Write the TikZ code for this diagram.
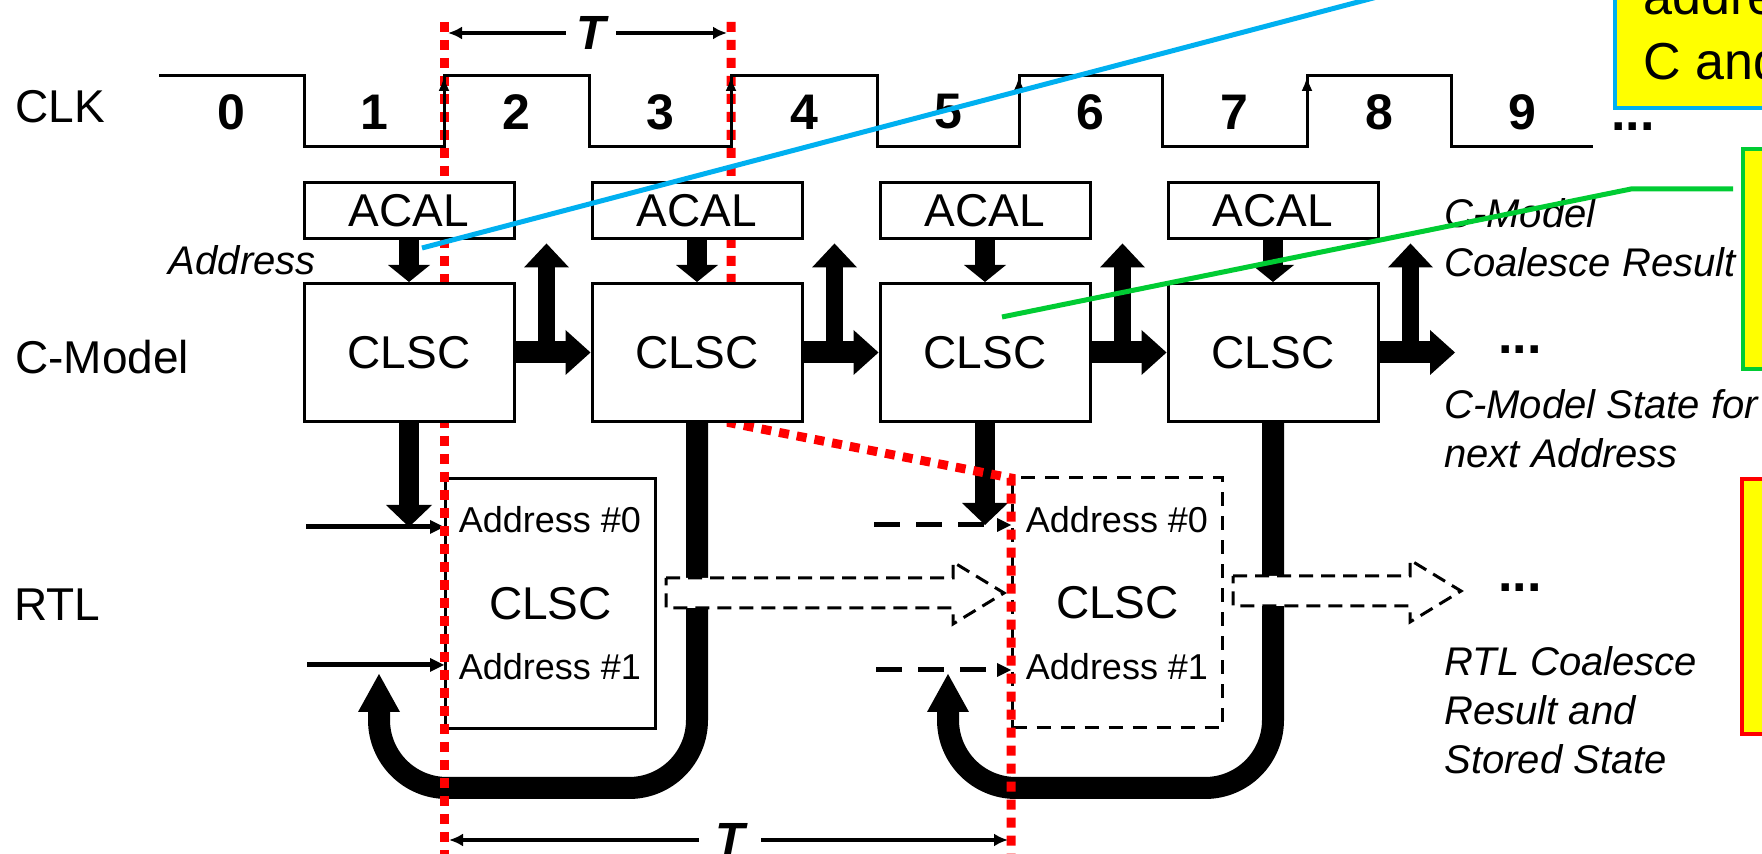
\documentclass[tikz,border=0pt]{standalone}
\usepackage{fontspec}
\setmainfont{Liberation Sans}
\usetikzlibrary{arrows.meta,calc}

\definecolor{noteyellow}{RGB}{255,255,0}
\definecolor{noteblue}{RGB}{0,176,240}
\definecolor{notegreen}{RGB}{0,204,51}

\pgfdeclarelayer{under}
\pgfdeclarelayer{guide}
\pgfsetlayers{under,guide,main}

\tikzset{
  blk/.style={draw, line width=1.5pt, fill=white, minimum width=105pt, inner sep=0pt,
    font=\fontsize{23}{27}\selectfont},
  acalbox/.style={blk, minimum height=28pt},
  clscbox/.style={blk, minimum height=69pt},
  rtlbox/.style={blk, minimum height=125pt},
  lbl/.style={inner sep=0pt, font=\fontsize{23}{27}\selectfont},
  note/.style={inner sep=0pt, align=left, font=\fontsize{20}{24.5}\selectfont\itshape},
  addr/.style={inner sep=0pt, font=\fontsize{18}{22}\selectfont},
  num/.style={inner sep=0pt, font=\fontsize{25}{30}\selectfont\bfseries},
  more/.style={inner sep=0pt, font=\fontsize{26}{30}\selectfont\bfseries},
  tlabel/.style={inner sep=5pt, font=\fontsize{24}{28}\selectfont\bfseries\itshape},
  clk/.style={line width=1.5pt},
  riseedge/.style={line width=1.5pt, -{Latex[length=7.5pt,width=5.5pt]}},
  tspan/.style={line width=2pt, -{Latex[length=7pt,width=6.5pt]}},
  reddot/.style={red, line width=4.5pt, dash pattern=on 5pt off 4pt},
  fatdown/.style={line width=10pt, -{Triangle[length=8.5pt,width=21pt,line width=0pt]}},
  fatdrop/.style={line width=10pt, -{Triangle[length=11pt,width=23pt,line width=0pt]}},
  fatup/.style={line width=8.5pt, -{Triangle[length=12pt,width=22.5pt,line width=0pt]}},
  fatright/.style={line width=11pt, -{Triangle[length=12.5pt,width=22.5pt,line width=0pt]}},
  loopback/.style={line width=11pt, rounded corners=34pt,
    -{Triangle[length=19pt,width=21pt,line width=0pt]}},
  feed/.style={line width=2.5pt, -{Triangle[length=7pt,width=7pt,line width=0pt]}},
  feeddash/.style={feed, dash pattern=on 13pt off 8pt},
  hollow/.style={draw, fill=white, line width=1.5pt, dash pattern=on 7pt off 4pt},
  notebox/.style={draw, line width=2pt, fill=noteyellow, minimum width=110pt, inner sep=0pt},
  notetext/.style={inner sep=0pt, anchor=base west, font=\fontsize{26}{30}\selectfont},
}

\newcommand{\hollowarrow}[3]{%
  \draw[hollow] (#1,#3-15) -- (#2-51,#3-15) -- (#2-51,#3-31) -- (#2,#3)
    -- (#2-51,#3+31) -- (#2-51,#3+15) -- (#1,#3+15) -- cycle;}

\begin{document}
\begin{tikzpicture}[x=0.5pt, y=-0.5pt]
  \useasboundingbox (0,0) rectangle (1762,854);
  \begin{pgfonlayer}{under}
    \fill[white] (0,0) rectangle (1762,854);
  \end{pgfonlayer}
  \clip (0,0) rectangle (1762,854);

  \node[lbl, anchor=west] (clklbl) at (15,107) {CLK};
  \node[lbl, anchor=west] (cmlbl) at (15,357) {C-Model};
  \node[lbl, anchor=west] (rtllbl) at (14,605) {RTL};

  \draw[clk] (159,76) -- (304,76) -- (304,147) -- (444,147) -- (444,76) -- (589,76)
    -- (589,147) -- (731,147) -- (731,76) -- (877,76) -- (877,147) -- (1019,147)
    -- (1019,76) -- (1162,76) -- (1162,147) -- (1307,147) -- (1307,76) -- (1451,76)
    -- (1451,147) -- (1593,147);
  \foreach \x in {444,731,1019,1307}
    \draw[riseedge] (\x,147) -- (\x,76);
  \foreach \n/\x in {0/231,1/374,2/516,3/660,4/804,5/948,6/1090,7/1234,8/1379,9/1522}
    \node[num] (n\n) at (\x,112) {\n};
  \node[more] (moreclk) at (1633,127) {...};

  \node[tlabel] (ttop) at (591,33) {T};
  \draw[tspan] (ttop) -- (448,33);
  \draw[tspan] (ttop) -- (727,33);

  \foreach \i/\x in {1/409, 2/697, 3/985, 4/1273} {
    \node[acalbox] (acal\i) at (\x,211) {ACAL};
    \node[clscbox] (clsc\i) at (\x,352.5) {CLSC};
    \draw[fatdown] (acal\i) -- (clsc\i);
  }
  \coordinate (out4) at (1455,352.5);
  \foreach \a/\b in {clsc1/clsc2, clsc2/clsc3, clsc3/clsc4, clsc4/out4}
    \draw[fatright] (\a) -- (\b);
  \foreach \i in {1,...,4}
    \draw[fatup] ($(clsc\i.east)+(31,0)$) -- ++(0,-109);

  \node[note, anchor=east] (addrlbl) at (316,260) {Address};
  \node[note, anchor=west] (cmres) at (1444,238) {C-Model\\Coalesce Result};
  \node[more] (morecm) at (1520,350) {...};
  \node[note, anchor=west] (cmstate) at (1444,429) {C-Model State for\\next Address};

  \begin{pgfonlayer}{under}
    \node[rtlbox] (rtl1) at (550.5,604) {CLSC};
    \node[rtlbox, dash pattern=on 7pt off 5pt] (rtl2) at (1117.5,603) {CLSC};
    \coordinate (src0) at (306,527);
    \coordinate (src1) at (307,665);
    \coordinate (src2) at (874,525);
    \coordinate (src3) at (876,670);
    \draw[feed] (src0) -- (src0 -| rtl1.west);
    \draw[feed] (src1) -- (src1 -| rtl1.west);
    \draw[feeddash] (src2) -- (src2 -| rtl2.west);
    \draw[feeddash] (src3) -- (src3 -| rtl2.west);
    \draw[fatdrop] (clsc1) -- (clsc1 |- src0);
    \draw[fatdrop] (clsc3) -- (clsc3 |- src2);
    \draw[loopback] (clsc2) -- (697,788) -- (379,788) -- (379,674);
    \draw[loopback] (clsc4) -- (1273,788) -- (948,788) -- (948,674);
  \end{pgfonlayer}
  \node[addr] (a0) at (550,520) {Address \#0};
  \node[addr] (a1) at (550,667) {Address \#1};
  \node[addr] (b0) at (1117,520) {Address \#0};
  \node[addr] (b1) at (1117,667) {Address \#1};
  \hollowarrow{666}{1004}{593}
  \hollowarrow{1233}{1461}{591}
  \node[more] (morertl) at (1520,588) {...};
  \node[note, anchor=west] (rtlres) at (1444,710) {RTL Coalesce\\Result and\\Stored State};

  \begin{pgfonlayer}{guide}
    \draw[reddot] (444,22) -- (444,854);
    \draw[reddot] (731,22) -- (731,423) -- (1011,478) -- (1011,854);
  \end{pgfonlayer}

  \node[tlabel, inner sep=8pt] (tbot) at (730,840) {T};
  \draw[tspan] (tbot) -- (449,840);
  \draw[tspan] (tbot) -- (1008,840);

  \node[notebox, draw=noteblue, anchor=south west, minimum height=173pt] (noteaddr) at (1613,110) {};
  \node[notetext] (noteaddra) at (1643,15) {addre};
  \node[notetext] (noteaddrb) at (1643,80) {C and};
  \coordinate (addrmark) at (422,248);
  \draw[noteblue, line width=2.5pt] (addrmark) -- (noteaddr.west);

  \node[notebox, draw=notegreen, anchor=north west, minimum height=110pt] (noteclsc) at (1741,147) {};
  \coordinate (clscmark) at (1002,317);
  \coordinate (gbend) at (1631,189);
  \draw[notegreen, line width=2.5pt] (clscmark) -- (gbend) -- ($(gbend -| noteclsc.west)+(-8,0)$);

  \node[notebox, draw=red, anchor=north west, minimum height=127.5pt] (notertl) at (1740,477) {};
\end{tikzpicture}
\end{document}
